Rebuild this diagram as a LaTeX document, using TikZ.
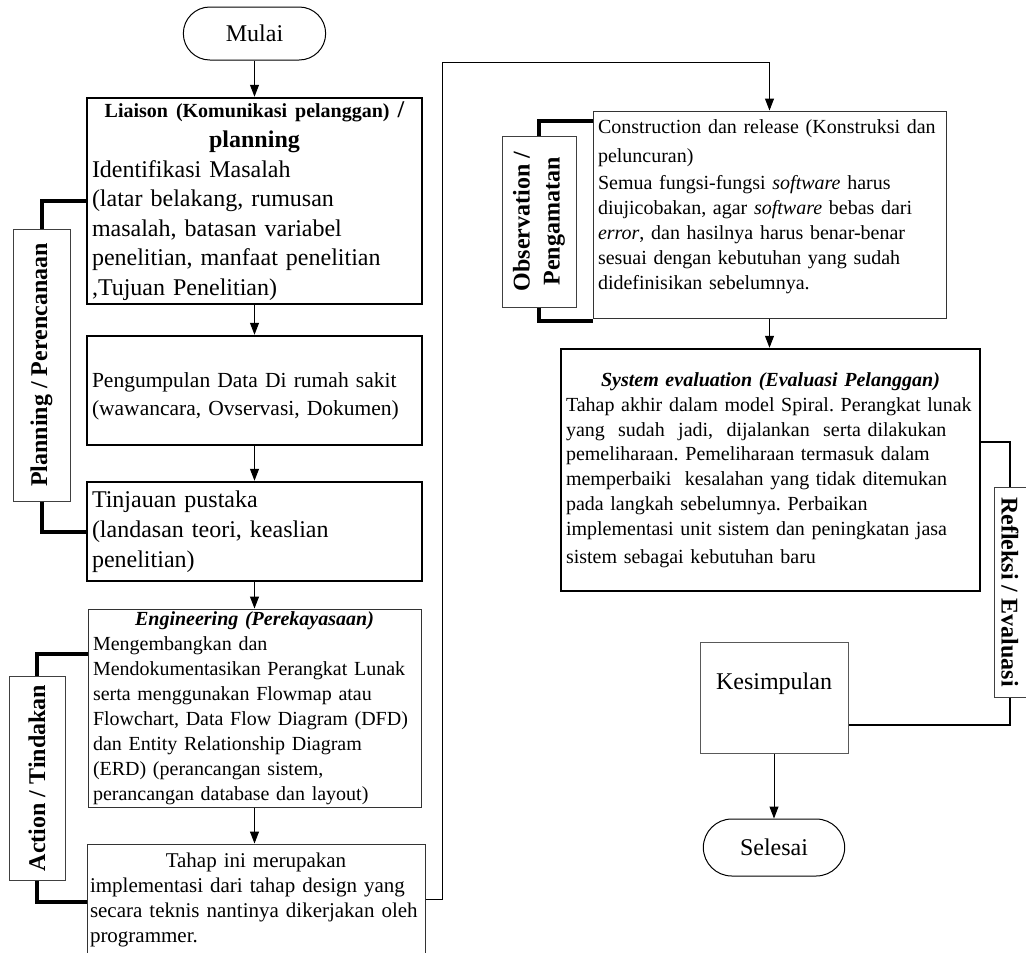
\documentclass[tikz,border=0pt]{standalone}
\usepackage{fontspec}
\setmainfont{Liberation Serif}
\usetikzlibrary{arrows.meta,shapes.misc}
\setlength{\parindent}{0pt}
\frenchspacing
% left-aligned lines that never wrap inside a box of fixed width
\newcommand{\leftlines}{\raggedright\rightskip=-40pt plus 1fil\relax}

\begin{document}
\begin{tikzpicture}[x=1pt,y=-1pt,
  thinbox/.style={draw=black!80, line width=1pt, rectangle, inner xsep=5pt, inner ysep=2pt},
  thickbox/.style={draw=black, line width=2.5pt, rectangle, inner xsep=5pt, inner ysep=2pt},
  terminal/.style={draw=black, line width=1pt, rounded rectangle, font=\fontsize{24}{28}\selectfont},
  sidelabel/.style={draw=black!75, line width=1pt, rectangle, inner sep=0pt,
                    font=\fontsize{24}{29}\selectfont\bfseries, align=center},
  flow/.style={-{Triangle[length=12pt,width=9pt]}, line width=1pt},
  bracket/.style={line width=4pt},
]
\fill[white] (0,0) rectangle (1026,953);
\useasboundingbox (0,0) rectangle (1026,953);

% ---------- left column ----------
\node[terminal, minimum width=149pt, minimum height=53pt] (mulai) at (254.5,33.5) {Mulai};

\node[thickbox, minimum width=335pt, minimum height=206pt, text width=325pt,
      font=\fontsize{24}{29.5}\selectfont] (b1) at (254.5,201) {%
  {\centering{\fontsize{20}{24}\selectfont\bfseries Liaison (Komunikasi pelanggan) }{\bfseries/}\\
   \bfseries\fontsize{24}{30}\selectfont planning\par}%
  \leftlines
  Identifikasi Masalah\\
  (latar belakang, rumusan\\
  masalah, batasan variabel\\
  penelitian, manfaat penelitian\\
  ,Tujuan Penelitian)};

\node[thickbox, minimum width=335pt, minimum height=109pt, text width=325pt, text height=26pt,
      font=\fontsize{21.5}{28}\selectfont] (b2) at (254.5,390.5) {%
  \leftlines Pengumpulan Data Di rumah sakit\\
  (wawancara, Ovservasi, Dokumen)};

\node[thickbox, minimum width=335pt, minimum height=99pt, text width=325pt,
      font=\fontsize{24}{30}\selectfont] (b3) at (254.5,531.5) {%
  \leftlines Tinjauan pustaka\\
  (landasan teori, keaslian\\
  penelitian)};

\node[thinbox, minimum width=333pt, minimum height=198pt, text width=323pt,
      font=\fontsize{20}{25}\selectfont] (eng) at (254.5,708) {%
  {\centering\bfseries\itshape Engineering (Perekayasaan)\par}%
  \leftlines
  Mengembangkan dan\\
  Mendokumentasikan Perangkat Lunak\\
  serta menggunakan Flowmap atau\\
  Flowchart, Data Flow Diagram (DFD)\\
  dan Entity Relationship Diagram\\
  (ERD) (perancangan sistem,\\
  perancangan database dan layout)};

\node[thinbox, inner xsep=3pt, minimum width=338pt, minimum height=111pt, text width=332pt,
      font=\fontsize{21}{25}\selectfont] (b5) at (256,899.5) {%
  {\centering Tahap ini merupakan\par}%
  \leftlines
  implementasi dari tahap design yang\\
  secara teknis nantinya dikerjakan oleh\\
  programmer.};

% side labels of the left column
\node[sidelabel, rotate=90, minimum width=272pt, minimum height=57pt] (plan) at (41.5,365) {Planning / Perencanaan};
\node[sidelabel, rotate=90, minimum width=204pt, minimum height=56pt] (act) at (37,778) {Action / Tindakan};

% ---------- right column ----------
\node[thinbox, minimum width=353pt, minimum height=207pt, text width=343pt, text depth=176pt,
      font=\fontsize{20}{25}\selectfont] (cons) at (769.5,214.5) {%
  \leftlines
  Construction dan release (Konstruksi dan\\[4pt]
  peluncuran)\\[2pt]
  Semua fungsi-fungsi \textit{software} harus\\
  diujicobakan, agar \textit{software} bebas dari\\
  \textit{error}, dan hasilnya harus benar-benar\\
  sesuai dengan kebutuhan yang sudah\\
  didefinisikan sebelumnya.};

\node[sidelabel, rotate=90, minimum width=171pt, minimum height=74pt, font=\fontsize{24}{30}\selectfont\bfseries]
  (obs) at (539,221.5) {Observation /\\Pengamatan};

\node[thickbox, minimum width=419pt, minimum height=242pt, text width=409pt,
      font=\fontsize{20}{24.8}\selectfont] (eval) at (770.5,470) {%
  {\centering\bfseries\itshape System evaluation (Evaluasi Pelanggan)\par}%
  \leftlines
  Tahap akhir dalam model Spiral. Perangkat lunak\\
  yang~ sudah~ jadi,~ dijalankan~ serta dilakukan\\
  pemeliharaan. Pemeliharaan termasuk dalam\\
  memperbaiki~ kesalahan yang tidak ditemukan\\
  pada langkah sebelumnya. Perbaikan\\
  implementasi unit sistem dan peningkatan jasa\\[3pt]
  sistem sebagai kebutuhan baru};

\node[sidelabel, rotate=-90, minimum width=210pt, minimum height=32pt] (ref) at (1010,592) {Refleksi / Evaluasi};

\node[thinbox, draw=black!65, minimum width=148pt, minimum height=111pt, text depth=32pt,
      font=\fontsize{24}{28}\selectfont] (kes) at (774,697.5) {Kesimpulan};

\node[terminal, minimum width=148pt, minimum height=57pt] (sel) at (774,847.5) {Selesai};

% ---------- flow connectors ----------
\draw[flow] (mulai.south) -- (b1.north);
\draw[flow] (b1.south) -- (b2.north);
\draw[flow] (b2.south) -- (b3.north);
\draw[flow] (b3.south) -- (eng.north);
\draw[flow] (eng.south) -- (eng.south |- b5.north);
\coordinate (loop) at (442,62);
\draw[flow] (b5.east) -| (loop) -| (cons.north);
\draw[flow] (cons.south) -- (cons.south |- eval.north);
\draw[flow] (kes.south) -- (sel.north);

% ---------- phase brackets ----------
\draw[bracket] (plan.east) |- (b1.west);
\draw[bracket] (plan.west) |- (b3.west);
\draw[bracket] (act.east) |- ([yshift=-45pt]eng.north west);
\draw[bracket] (act.west) |- ([yshift=-58pt]b5.north west);
\draw[bracket] (obs.east) |- ([yshift=-10pt]cons.north west);
\draw[bracket] (obs.west) |- ([yshift=-2pt]cons.south west);
\draw[line width=2.5pt] ([yshift=28pt]eval.east) -| (ref.west);
\draw[line width=2.5pt] (ref.east) |- ([yshift=-27.5pt]kes.east);
\end{tikzpicture}
\end{document}
